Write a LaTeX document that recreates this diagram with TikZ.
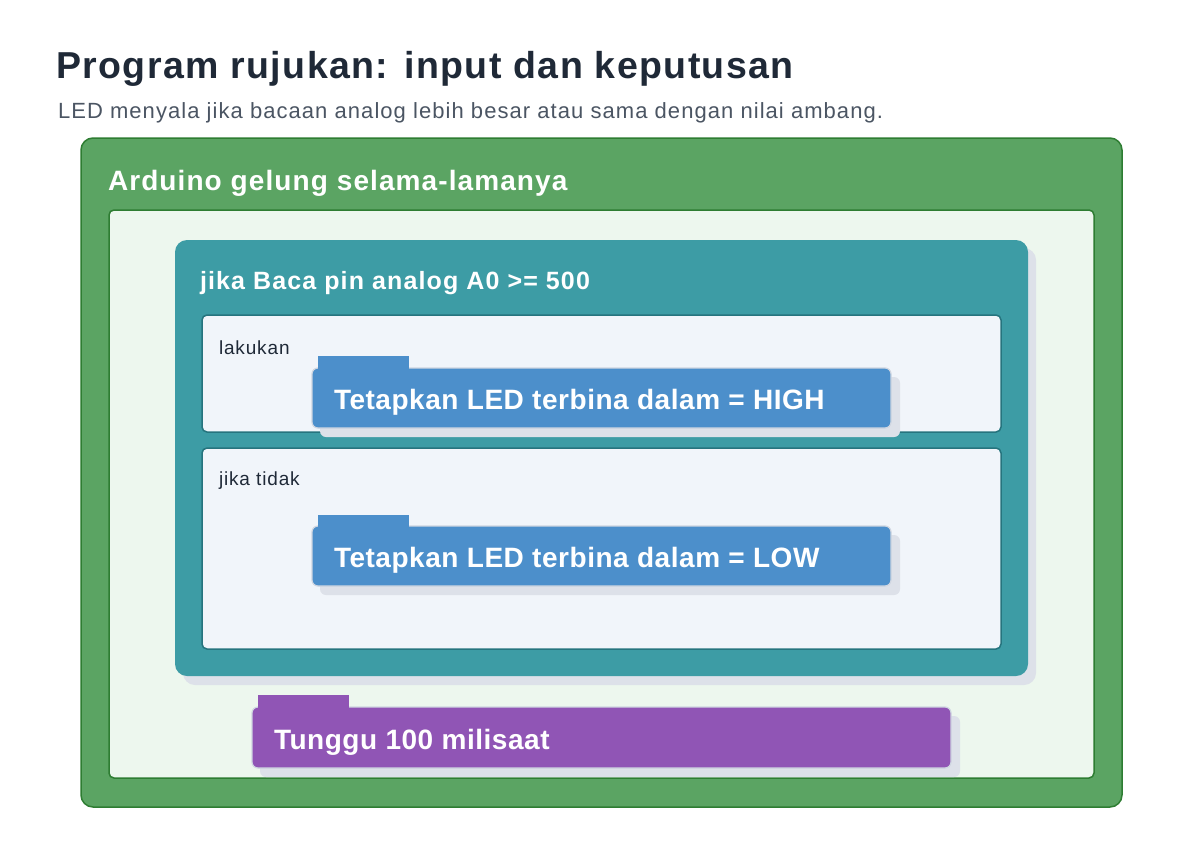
\documentclass[tikz,border=0pt]{standalone}
\usepackage{fontspec}
\setmainfont{Liberation Sans}
\definecolor{loopfill}{HTML}{5BA463}
\definecolor{loopline}{HTML}{2E7D32}
\definecolor{innerfill}{HTML}{EDF7EE}
\definecolor{ifteal}{HTML}{3D9CA5}
\definecolor{slotline}{HTML}{26747E}
\definecolor{slotfill}{HTML}{F1F5FA}
\definecolor{setblue}{HTML}{4C8FCB}
\definecolor{waitpurple}{HTML}{9055B5}
\definecolor{shadowc}{HTML}{DDE1E9}
\definecolor{edgec}{HTML}{CFD6E1}
\definecolor{titlec}{HTML}{1F2937}
\definecolor{subc}{HTML}{4B5563}
\tikzset{
  lbl/.style={anchor=base west,inner sep=0pt,outer sep=0pt},
  titletext/.style={lbl,font=\bfseries\fontsize{37.5}{40}\selectfont\addfontfeature{LetterSpace=3.8},text=titlec},
  subtext/.style={lbl,font=\fontsize{22}{24}\selectfont\addfontfeature{LetterSpace=4.8},text=subc},
  headtext/.style={lbl,font=\bfseries\fontsize{28}{30}\selectfont\addfontfeature{LetterSpace=3.9},text=white},
  ifhead/.style={lbl,font=\bfseries\fontsize{25}{28}\selectfont\addfontfeature{LetterSpace=4.5},text=white},
  slottext/.style={lbl,font=\fontsize{19}{20}\selectfont\addfontfeature{LetterSpace=4.5},text=titlec},
  blocktext/.style={lbl,font=\bfseries\fontsize{28}{30}\selectfont\addfontfeature{LetterSpace=1.9},text=white},
  shadowbox/.style={fill=shadowc,rounded corners=6pt},
}
\begin{document}
\begin{tikzpicture}[x=1pt,y=-1pt]
\useasboundingbox[fill=white] (0,0) rectangle (1200,860);
% titles
\node[titletext] (title) at (56,78) {Program rujukan: input dan keputusan};
\node[subtext] (subtitle) at (58,118) {LED menyala jika bacaan analog lebih besar atau sama dengan nilai ambang.};
% outer loop
\draw[fill=loopfill,draw=loopline,line width=1.5pt,rounded corners=12pt] (81,138) rectangle (1122,807);
\node[headtext] (loophead) at (108,190) {Arduino gelung selama-lamanya};
\draw[fill=innerfill,draw=loopline,line width=1.5pt,rounded corners=5pt] (109,210) rectangle (1094,778);
% if block
\fill[shadowc,rounded corners=12pt] (183,248) rectangle (1036,685);
\fill[ifteal,rounded corners=12pt] (175,240) rectangle (1028,676);
\node[ifhead] (ifhead) at (200,289) {jika Baca pin analog A0 >= 500};
\draw[fill=slotfill,draw=slotline,line width=1.5pt,rounded corners=5pt] (202,315) rectangle (1001,432);
\draw[fill=slotfill,draw=slotline,line width=1.5pt,rounded corners=5pt] (202,448) rectangle (1001,649);
\node[slottext] (dolabel) at (219,354) {lakukan};
\node[slottext] (elselabel) at (219,485) {jika tidak};
% set HIGH
\fill[shadowbox] (320,377) rectangle (900,437);
\draw[fill=setblue,draw=edgec,line width=1.2pt,rounded corners=6pt] (312,368) rectangle (891,428);
\fill[setblue] (318,356) rectangle (409,370);
\node[blocktext] (sethigh) at (334,409) {Tetapkan LED terbina dalam = HIGH};
% set LOW
\fill[shadowbox] (320,535) rectangle (900,595);
\draw[fill=setblue,draw=edgec,line width=1.2pt,rounded corners=6pt] (312,526) rectangle (891,586);
\fill[setblue] (318,515) rectangle (409,528);
\node[blocktext] (setlow) at (334,567) {Tetapkan LED terbina dalam = LOW};
% wait
\fill[shadowbox] (260,716) rectangle (960,777);
\draw[fill=waitpurple,draw=edgec,line width=1.2pt,rounded corners=6pt] (252,707) rectangle (951,768);
\fill[waitpurple] (258,695) rectangle (349,709);
\node[blocktext] (wait) at (274,749) {Tunggu 100 milisaat};
\end{tikzpicture}
\end{document}
